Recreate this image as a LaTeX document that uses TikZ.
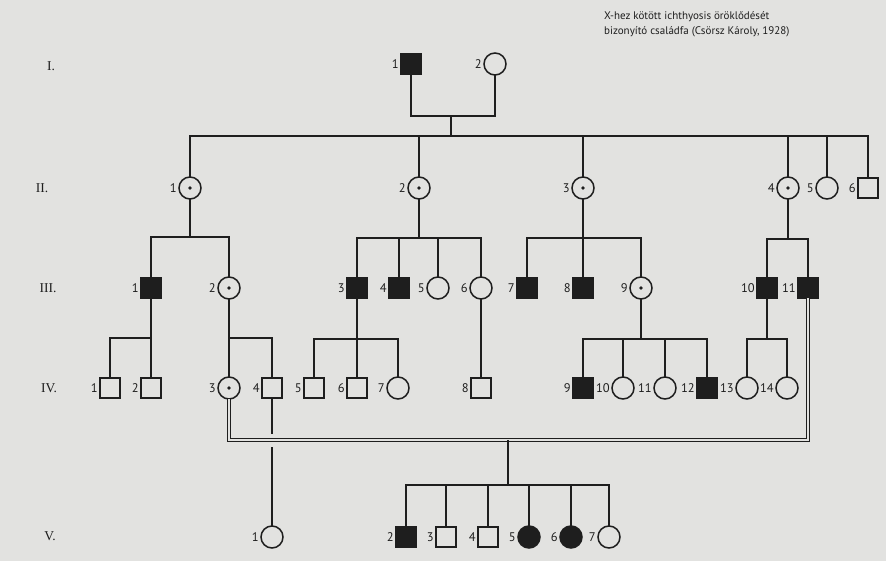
\documentclass[tikz,border=0pt]{standalone}
\usepackage{fontspec}
\setmainfont{Liberation Serif}
\newfontfamily\labfont{PT Sans}
\definecolor{ink}{RGB}{30,30,30}
\definecolor{paper}{RGB}{226,226,224}
\begin{document}
\begin{tikzpicture}[x=1pt,y=-1pt,
  sym/.style={draw=ink, line width=1.5pt, inner sep=0pt, outer sep=0pt, fill=paper},
  male/.style={sym, rectangle, minimum size=20pt},
  female/.style={sym, circle, minimum size=22pt},
  aff/.style={fill=ink},
  carrier/.style={path picture={\fill[ink] (path picture bounding box.center) circle (1.8pt);}},
  lab/.style={font=\labfont\fontsize{12.5}{12.5}\selectfont, text=ink, inner sep=1pt},
  every label/.style={lab},
  label distance=1pt,
  gen/.style={font=\fontsize{13.5}{13.5}\selectfont, text=ink, inner sep=0pt},
  ttl/.style={font=\labfont\fontsize{11}{11}\selectfont, text=ink, inner sep=0pt, anchor=base west},
  ln/.style={draw=ink, line width=1.5pt},
  dbl/.style={draw=ink, line width=1.5pt, double=paper, double distance=1.2pt, line join=miter}
]
\fill[paper] (0,0) rectangle (886,561);
\useasboundingbox (0,0) rectangle (886,561);

% title
\node[ttl] (t1) at (604,20) {X-hez kötött ichthyosis öröklődését};
\node[ttl] (t2) at (604,35) {bizonyító családfa (Csörsz Károly, 1928)};

% generation labels
\node[gen] (gI) at (51,66) {I.};
\node[gen] (gII) at (42,188) {II.};
\node[gen] (gIII) at (48,288) {III.};
\node[gen] (gIV) at (49,388) {IV.};
\node[gen] (gV) at (50,536) {V.};

% coordinates of sibship bars
\coordinate (m0) at (451,116);
\coordinate (f0) at (451,136);
\coordinate (f1) at (190,237);
\coordinate (f2) at (419,238);
\coordinate (f3) at (583,238);
\coordinate (f4) at (788,239);
\coordinate (g1) at (151,338);
\coordinate (g2) at (229,338);
\coordinate (g3) at (357,339);
\coordinate (g9) at (641,339);
\coordinate (g10) at (767,339);
\coordinate (d0) at (508,440);
\coordinate (h0) at (508,485);

% Generation I
\node[male,aff,label=left:1] (I1) at (411,64) {};
\node[female,label=left:2] (I2) at (495,64) {};
% Generation II
\node[female,carrier,label=left:1] (II1) at (190,188) {};
\node[female,carrier,label=left:2] (II2) at (419,188) {};
\node[female,carrier,label=left:3] (II3) at (583,188) {};
\node[female,carrier,label=left:4] (II4) at (788,188) {};
\node[female,label=left:5] (II5) at (827,188) {};
\node[male,label=left:6] (II6) at (868,188) {};
% Generation III
\node[male,aff,label=left:1] (III1) at (151,288) {};
\node[female,carrier,label=left:2] (III2) at (229,288) {};
\node[male,aff,label=left:3] (III3) at (357,288) {};
\node[male,aff,label=left:4] (III4) at (399,288) {};
\node[female,label=left:5] (III5) at (438,288) {};
\node[female,label=left:6] (III6) at (481,288) {};
\node[male,aff,label=left:7] (III7) at (527,288) {};
\node[male,aff,label=left:8] (III8) at (583,288) {};
\node[female,carrier,label=left:9] (III9) at (641,288) {};
\node[male,aff,label=left:10] (III10) at (767,288) {};
\node[male,aff,label=left:11] (III11) at (808,288) {};
% Generation IV
\node[male,label=left:1] (IV1) at (110,388) {};
\node[male,label=left:2] (IV2) at (151,388) {};
\node[female,carrier,label=left:3] (IV3) at (229,388) {};
\node[male,label=left:4] (IV4) at (272,388) {};
\node[male,label=left:5] (IV5) at (314,388) {};
\node[male,label=left:6] (IV6) at (357,388) {};
\node[female,label=left:7] (IV7) at (398,388) {};
\node[male,label=left:8] (IV8) at (481,388) {};
\node[male,aff,label=left:9] (IV9) at (583,388) {};
\node[female,label=left:10] (IV10) at (623,388) {};
\node[female,label=left:11] (IV11) at (665,388) {};
\node[male,aff,label=left:12] (IV12) at (707,388) {};
\node[female,label=left:13] (IV13) at (747,388) {};
\node[female,label=left:14] (IV14) at (787,388) {};
% Generation V
\node[female,label=left:1] (V1) at (272,537) {};
\node[male,aff,label=left:2] (V2) at (406,537) {};
\node[male,label=left:3] (V3) at (446,537) {};
\node[male,label=left:4] (V4) at (488,537) {};
\node[female,aff,label=left:5] (V5) at (529,537) {};
\node[female,aff,label=left:6] (V6) at (571,537) {};
\node[female,label=left:7] (V7) at (609,537) {};

% connectors generation I -> II
\draw[ln] (I1.south) |- (m0) -| (I2.south);
\draw[ln] (m0) -- (f0);
\draw[ln] (II1.north) |- (f0) -| (II6.north);
\foreach \n in {II2,II3,II4,II5} \draw[ln] (\n.north) -- (\n.north |- f0);

% II -> III
\draw[ln] (II1.south) -- (f1);
\draw[ln] (III1.north) |- (f1) -| (III2.north);
\draw[ln] (II2.south) -- (f2);
\draw[ln] (III3.north) |- (f2) -| (III6.north);
\foreach \n in {III4,III5} \draw[ln] (\n.north) -- (\n.north |- f2);
\draw[ln] (II3.south) -- (III8.north);
\draw[ln] (III7.north) |- (f3) -| (III9.north);
\draw[ln] (II4.south) -- (f4);
\draw[ln] (III10.north) |- (f4) -| (III11.north);

% III -> IV
\draw[ln] (III1.south) -- (IV2.north);
\draw[ln] (IV1.north) |- (g1);
\draw[ln] (III2.south) -- (IV3.north);
\draw[ln] (g2) -| (IV4.north);
\draw[ln] (III3.south) -- (IV6.north);
\draw[ln] (IV5.north) |- (g3) -| (IV7.north);
\draw[ln] (III6.south) -- (IV8.north);
\draw[ln] (III9.south) -- (g9);
\draw[ln] (IV9.north) |- (g9) -| (IV12.north);
\foreach \n in {IV10,IV11} \draw[ln] (\n.north) -- (\n.north |- g9);
\draw[ln] (III10.south) -- (g10);
\draw[ln] (IV13.north) |- (g10) -| (IV14.north);

% IV-4 -> V-1 passing under the marriage line
\draw[ln] (IV4.south) -- (V1.north);
\fill[paper] (267,434) rectangle (277,447);
% consanguineous marriage IV-3 x III-11
\draw[dbl] (IV3.south) |- (d0) -| (III11.south);
% children V
\draw[ln] (d0) -- (h0);
\draw[ln] (V2.north) |- (h0) -| (V7.north);
\foreach \n in {V3,V4,V5,V6} \draw[ln] (\n.north) -- (\n.north |- h0);
\end{tikzpicture}
\end{document}
